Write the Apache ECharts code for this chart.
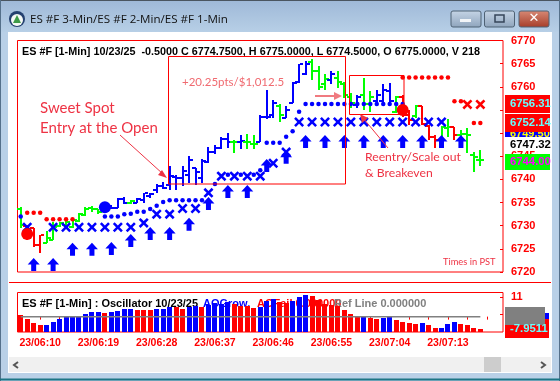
<!DOCTYPE html>
<html><head><meta charset="utf-8">
<style>html,body{margin:0;padding:0;background:#fff}#c{width:560px;height:381px}</style>
<script src="https://cdn.jsdelivr.net/npm/echarts@6/dist/echarts.min.js"></script>
</head><body><div id="c"></div>
<script>
const times=['23/06:07','23/06:08','23/06:09','23/06:10','23/06:11','23/06:12','23/06:13','23/06:14','23/06:15','23/06:16','23/06:17','23/06:18','23/06:19','23/06:20','23/06:21','23/06:22','23/06:23','23/06:24','23/06:25','23/06:26','23/06:27','23/06:28','23/06:29','23/06:30','23/06:31','23/06:32','23/06:33','23/06:34','23/06:35','23/06:36','23/06:37','23/06:38','23/06:39','23/06:40','23/06:41','23/06:42','23/06:43','23/06:44','23/06:45','23/06:46','23/06:47','23/06:48','23/06:49','23/06:50','23/06:51','23/06:52','23/06:53','23/06:54','23/06:55','23/06:56','23/06:57','23/06:58','23/06:59','23/07:00','23/07:01','23/07:02','23/07:03','23/07:04','23/07:05','23/07:06','23/07:07','23/07:08','23/07:09','23/07:10','23/07:11','23/07:12','23/07:13','23/07:14','23/07:15','23/07:16','23/07:17','23/07:18','23/07:19','23/07:20','23/07:21'];
const opens=[6733.5,6730,6729.5,6725.75,6726.25,6727,6730,6730.25,6729.75,6731,6732.25,6733.75,6733.5,6733.25,6734.25,6733.75,6735.75,6735,6735,6735.5,6736.5,6737.75,6738.5,6738.75,6740.5,6740.25,6741,6742.5,6740.25,6743.75,6746,6746.75,6748.75,6748,6748,6748,6747.75,6748,6753.5,6754,6755.75,6753.25,6756.5,6761,6762.75,6765.25,6763.5,6760.5,6761.5,6762,6760.5,6757.75,6756,6758.25,6756.25,6757,6757,6759,6754.5,6757.75,6754,6753.75,6755.75,6751.5,6749.25,6748.5,6751,6751.25,6749.5,6749.75,6745.25,6744.25];
const highs=[6734,6730.25,6729.5,6728,6728.75,6730.75,6730.75,6731.25,6731.75,6732.75,6734,6734.25,6733.5,6735,6734.5,6736,6736.25,6735.5,6736,6737,6737,6739,6739.5,6743,6741,6743,6745,6742.5,6744.5,6747,6747.5,6749.25,6750,6748.5,6749.5,6749.75,6749.5,6754,6759.25,6757.25,6756.25,6755.75,6761,6765,6765.5,6766,6764.5,6762.75,6763.5,6763.5,6761,6758.75,6758.25,6762,6759,6759.25,6760.5,6760.75,6758,6758.25,6755,6756,6755.75,6751.75,6749.5,6751.5,6753,6751.25,6750.75,6751,6746,6746.25];
const lows=[6729.5,6727,6725.5,6724,6726.25,6727,6729.75,6730,6729.5,6730.75,6732,6733,6732.5,6733,6733.5,6733.75,6734.75,6734.75,6735,6735,6736,6737,6738,6737.75,6737.75,6738.5,6739.25,6738.75,6739.25,6743.5,6745.5,6746.5,6746.75,6745.75,6746.5,6746.5,6746.5,6748,6753,6753.25,6752.5,6753.25,6756.5,6760.75,6762.5,6761.5,6759.25,6759.25,6760.5,6759.75,6757.5,6755.5,6755.5,6755,6754.5,6756,6756,6756,6754.25,6753.5,6751.75,6753.25,6751.75,6748.5,6746.75,6748,6749.25,6748.5,6748,6745.75,6741.5,6743];
const closes=[6730.25,6727.75,6725.75,6728,6727.25,6729.75,6730.5,6730.75,6731.25,6732.5,6733.5,6733.5,6733,6734.5,6733.75,6735.75,6735,6735.25,6735.75,6737,6736.75,6738.5,6738.25,6740.75,6740.25,6741.75,6744.25,6741.5,6744,6746,6746.75,6748.75,6748,6748,6748.25,6748,6747.75,6753.5,6753.5,6756.5,6754,6755,6760.75,6765,6765,6763.5,6760,6761.75,6762.75,6761,6758.25,6756.5,6757.75,6756.25,6757.75,6758.25,6759.25,6757,6757.75,6754,6752.75,6755.75,6752,6749.25,6748.5,6751.25,6751.25,6749.5,6749.75,6749.5,6744.75,6744.25];
const barColors=['g','r','r','r','g','g','g','g','g','g','g','g','g','b','b','b','b','g','b','b','b','b','b','b','b','b','b','b','b','b','b','b','b','g','b','g','g','b','b','b','g','b','b','b','b','g','g','g','b','g','g','g','b','g','g','b','b','b','g','r','r','g','r','r','r','g','g','r','g','g','g','g'];
const blueDots=[[0,6732],[13,6732],[14,6732],[15,6732],[16,6732.5],[17,6732.6],[18,6733],[19,6733],[20,6733.6],[21,6734.3],[22,6735.1],[23,6735.5],[24,6735.5],[25,6735.5],[26,6735.5],[27,6735.5],[28,6735.5],[30,6739],[32,6741],[34,6741],[36,6741],[37,6742],[38,6747.9],[39,6747.9],[40,6747.9],[41,6749.2],[42,6750.4],[43,6754.6],[44,6756.3],[45,6756.3],[46,6756.3],[47,6756.3],[48,6756.3],[49,6756.3],[50,6756.3],[51,6756.3],[52,6756.3],[53,6756.3],[54,6756.3],[55,6756.3],[56,6756.3],[57,6756.3],[58,6756.3],[59,6756.3]];
const redDots=[[1,6732.8],[2,6732.8],[3,6732.8],[4,6731.4],[5,6731.4],[6,6731.4],[7,6731.4],[8,6731.4],[59,6762],[60,6762],[61,6762],[62,6762],[63,6762],[64,6762],[65,6762],[66,6762],[67,6756.9],[68,6756.9],[70,6752.2],[71,6752.2]];
const blueCrosses=[[1,6729.65],[5,6729.65],[7,6729.65],[9,6729.65],[11,6729.65],[13,6729.65],[15,6729.65],[17,6729.65],[19,6730.6],[21,6732.5],[23,6732.5],[25,6733.7],[27,6733.7],[29,6737.1],[31,6740.7],[33,6740.7],[35,6740.7],[37,6740.7],[39,6743.5],[41,6745.9],[43,6752.4],[45,6752.4],[47,6752.4],[49,6752.4],[51,6752.4],[53,6752.4],[55,6752.4],[57,6752.4],[59,6752.4],[61,6752.4],[63,6752.4],[65,6752.4]];
const redCrosses=[[69,6756.2],[71,6756.2]];
const upArrows=[[2,6721.6],[5,6721.6],[8,6724.9],[11,6724.9],[14,6725.1],[17,6726.8],[20,6728.3],[23,6728.3],[26,6730.3],[29,6734.8],[32,6737.4],[35,6737.4],[38,6743],[41,6744.8],[44,6748.2],[47,6748.2],[50,6748.2],[53,6748.2],[56,6748.2],[59,6748.2],[62,6748.2],[65,6748.2],[68,6748.2]];
const redBalls=[[1,6728.2],[59,6755]];
const blueBalls=[[13,6734]];
const oscValues=[0.9,-1.3,-3.5,-4.7,-4.7,-3,-1.3,0,0,0,1.5,2.6,2.6,2,2.6,3.2,4.3,4.3,3.7,3.7,3.7,4.3,4.3,5.4,5.2,4.3,5.6,6,5.4,6.5,7.4,6.9,8.2,7.1,6.1,6.1,4.8,5.4,8.8,10.1,8.2,7.4,8.8,11,12.1,11.5,9.3,7.1,6.5,6,3.7,1.5,0,-0.2,-0.7,-1.3,-0.7,-0.2,-1.9,-3,-3.5,-4.1,-3.5,-4.7,-6.3,-6.3,-4.1,-3,-4.1,-4.7,-6.3,-6.9];
const oscColors=['r','r','r','r','b','b','b','b','b','b','b','b','b','r','b','b','b','b','r','r','r','b','b','b','r','r','b','b','r','b','b','b','b','r','r','r','r','b','b','b','r','r','b','b','b','r','r','r','r','r','r','r','r','b','r','r','b','b','r','r','r','r','b','r','r','b','b','b','r','r','r','r'];
const refLine=oscValues.map(()=>0);
const priceTicks=[6720,6770];
const oscLabelTicks=[11];
const oscTickMarks=[11,1.5];

const RED='#ff0000',BLUE='#0000ff',GREEN='#00ff00';
const colorOf={r:RED,b:BLUE,g:GREEN};
const arial='"Liberation Sans",Arial,sans-serif';
const ui='Lato,"Open Sans",sans-serif';
const NOTE='#ee3344';

function renderOhlc(params,api){
  const i=api.value(0),c=colorOf[barColors[i]];
  const x=Math.round(api.coord([i,0])[0]);
  const yo=Math.round(api.coord([i,api.value(1)])[1]);
  const yh=Math.round(api.coord([i,api.value(2)])[1]);
  const yl=Math.round(api.coord([i,api.value(3)])[1]);
  const yc=Math.round(api.coord([i,api.value(4)])[1]);
  const st={fill:c};
  return {type:'group',children:[
    {type:'rect',shape:{x:x-1,y:yh,width:2,height:Math.max(1,yl-yh)},style:st},
    {type:'rect',shape:{x:x-4,y:yo-1,width:4,height:2},style:st},
    {type:'rect',shape:{x:x+1,y:yc-1,width:3,height:2},style:st}
  ]};
}
function renderOsc(params,api){
  const i=api.value(0);
  const a=api.coord([i,api.value(1)]);
  const b=api.coord([i,-8.6]);
  const x=Math.round(a[0]-2.5);
  return {type:'rect',shape:{x:x,y:Math.round(a[1]),width:5,height:Math.round(b[1])-Math.round(a[1])},style:{fill:colorOf[oscColors[i]]}};
}
const txt=(x,y,text,font,fill,extra)=>Object.assign({type:'text',x,y,z:100,silent:true,style:{text,font,fill,textVerticalAlign:'middle',textBaseline:'middle'}},extra||{});
const box=(x,y,w,h,fill,z)=>({type:'rect',z:z==null?90:z,silent:true,shape:{x,y,width:w,height:h},style:{fill}});
const frame=(x,y,w,h,c)=>({type:'rect',z:100,silent:true,shape:{x,y,width:w,height:h},style:{fill:'none',stroke:c,lineWidth:1}});
const seg=(x1,y1,x2,y2,c,w)=>({type:'line',z:100,silent:true,shape:{x1,y1,x2,y2},style:{stroke:c,lineWidth:w||1}});
const poly=(pts,c)=>({type:'polygon',z:100,silent:true,shape:{points:pts},style:{fill:c}});
const vGrad=(a,b)=>({type:'linear',x:0,y:0,x2:0,y2:1,colorStops:[{offset:0,color:a},{offset:1,color:b}]});
const btn=(x,w,a,b)=>({type:'rect',z:-5,silent:true,shape:{x,y:11,width:w,height:16,r:2},style:{fill:vGrad(a,b),stroke:'#4f6275',lineWidth:1}});

const graphics=[
  box(0,0,560,381,'#b9d0e7',-10),
  {type:'rect',z:-9,silent:true,shape:{x:1,y:1,width:558,height:31},style:{fill:vGrad('#9fb9d8','#b7cfe6')}},
  seg(0,0.5,560,0.5,'#4a5560',1),
  seg(0.5,0,0.5,381,'#55708a',1),
  seg(559.5,0,559.5,381,'#55708a',1),
  seg(0,379.5,560,379.5,'#1d7585',2),
  box(8,32,544,341,'#ffffff',-8),
  box(9,357,542,15,'#f0f0f0',-7),
  box(484,357,17,15,'#cdcdcd',-6),
  {type:'polyline',z:-5,silent:true,shape:{points:[[18,362],[14,365],[18,368]]},style:{stroke:'#555',lineWidth:2,fill:'none'}},
  {type:'polyline',z:-5,silent:true,shape:{points:[[541,362],[545,365],[541,368]]},style:{stroke:'#555',lineWidth:2,fill:'none'}},
  {type:'circle',z:-5,silent:true,shape:{cx:17,cy:19,r:8},style:{fill:'#24406f'}},
  {type:'circle',z:-5,silent:true,shape:{cx:17,cy:20,r:6},style:{fill:'#f4f8f4'}},
  poly([[17,15],[21,23],[13,23]],'#3f9a48'),
  txt(30,20,'ES #F 3-Min/ES #F 2-Min/ES #F 1-Min','11.6px "Open Sans",sans-serif','#111111'),
  btn(451,30,'#c6d5e6','#8ea4bc'),
  btn(484.5,30,'#c6d5e6','#8ea4bc'),
  btn(519,30,'#d88a76','#a63c28'),
  box(460,19,11,3,'#f2f5f8',-4),
  {type:'rect',z:-4,silent:true,shape:{x:495,y:15,width:9,height:7},style:{fill:'none',stroke:'#36465a',lineWidth:1.5}},
  {type:'text',x:534,y:19,z:-4,silent:true,style:{text:'✕',font:'bold 13px "DejaVu Sans"',fill:'#ffffff',textAlign:'center',textVerticalAlign:'middle',textBaseline:'middle'}},
  seg(9,282.5,551,282.5,RED,1),
  txt(22,52,'ES #F [1-Min] 10/23/25  -0.5000 C 6774.7500, H 6775.0000, L 6774.5000, O 6775.0000, V 218','bold 10.8px '+arial,'#000000'),
  {type:'group',children:[
    txt(22,304,'ES #F [1-Min] : Oscillator 10/23/25','bold 11px '+arial,'#000000',{z:0}),
    txt(203,304,'AOGrow,','bold 11px '+arial,BLUE,{z:0}),
    txt(257,304,'AOFail 0.000000','bold 11px '+arial,RED,{z:0}),
    txt(334,304,'Ref Line 0.000000','bold 11px '+arial,'#808080',{z:0})
  ]},
  frame(168.5,56.5,177,127.5,RED),
  frame(349.5,75.5,54.5,39,RED),
  txt(40,108,'Sweet Spot','15px '+ui,NOTE),
  txt(40,128,'Entry at the Open','15px '+ui,NOTE),
  txt(182,82,'+20.25pts/$1,012.5','11.5px '+ui,'#f06a70'),
  txt(365,157,'Reentry/Scale out','12.2px '+ui,NOTE),
  txt(365,173,'& Breakeven','12.2px '+ui,NOTE),
  txt(443,262,'Times in PST','9.3px '+ui,NOTE),
  seg(120,135,163,174,NOTE,1),
  poly([[167,178],[158,175],[162,170]],NOTE),
  seg(315,96,335,96,'#f07a80',2),
  poly([[342,96],[334,92],[334,100]],'#f07a80'),
  seg(388,148,363,118,NOTE,1),
  poly([[360,114],[368,118],[362,123]],NOTE),
  box(505,131,45,6,BLUE),
  txt(510,134,'6749.50','bold 11px '+arial,'#ffff00',{z:91}),
  box(505,95,45,18,RED,92),
  txt(510,104,'6756.31','bold 11.3px '+arial,'#66ffff',{z:93}),
  box(505,114,45,18,RED,92),
  txt(510,123,'6752.14','bold 11.3px '+arial,'#66ffff',{z:93}),
  txt(510,145,'6747.32','bold 11.3px '+arial,'#000000'),
  box(505,154,45,16,GREEN,92),
  txt(510,162,'6744.00','bold 11.3px '+arial,'#ff00ff',{z:93}),
  box(545,313,4,6,BLUE),
  box(505,319,44,19,RED,90),
  box(505,307,40,18,'#808080',91),
  txt(510,329,'-7.9511','bold 11.3px '+arial,'#66ffff',{z:93})
];

const scatterBase={type:'scatter',xAxisIndex:0,yAxisIndex:0,z:4};
const crossPath='path://M1.8,0 L5,3.2 L8.2,0 L10,1.8 L6.8,5 L10,8.2 L8.2,10 L5,6.8 L1.8,10 L0,8.2 L3.2,5 L0,1.8Z';
const option={
  animation:false,
  backgroundColor:'#ffffff',
  graphic:{elements:graphics},
  grid:[
    {left:17.5,width:485.5,top:40.5,height:231.5,show:true,borderColor:RED,borderWidth:1,backgroundColor:'transparent',z:1},
    {left:17.5,width:485.5,top:292.5,height:39.5,show:true,borderColor:RED,borderWidth:1,backgroundColor:'transparent',z:1}
  ],
  xAxis:[
    {type:'category',gridIndex:0,data:times,axisLine:{show:false},axisTick:{show:false},axisLabel:{show:false},splitLine:{show:false}},
    {type:'category',gridIndex:1,data:times,axisLine:{show:false},
      axisTick:{show:true,length:3,alignWithLabel:true,interval:i=>i%3===0,lineStyle:{color:RED}},
      axisLabel:{interval:i=>i%9===3,color:RED,fontWeight:'bold',fontSize:10.5,fontFamily:arial,margin:6,hideOverlap:false},splitLine:{show:false}}
  ],
  yAxis:[
    {type:'value',gridIndex:0,position:'right',min:priceTicks[0],max:priceTicks[1],interval:5,
      axisLine:{show:false},axisTick:{show:true,inside:true,length:3,lineStyle:{color:RED}},
      axisLabel:{formatter:v=>String(v),color:RED,fontWeight:'bold',fontSize:11,fontFamily:arial,margin:8},splitLine:{show:false}},
    {type:'value',gridIndex:1,position:'right',min:-8.6,max:13.5,
      axisLine:{show:false},
      axisTick:{show:true,inside:true,length:3,customValues:oscTickMarks,lineStyle:{color:RED}},
      axisLabel:{customValues:oscLabelTicks,color:RED,fontWeight:'bold',fontSize:11,fontFamily:arial,margin:8},splitLine:{show:false}}
  ],
  series:[
    {type:'custom',name:'OHLC',xAxisIndex:0,yAxisIndex:0,z:3,renderItem:renderOhlc,
      encode:{x:0,y:[1,2,3,4]},
      data:opens.map((o,i)=>[i,o,highs[i],lows[i],closes[i]])},
    {...scatterBase,name:'Blue dots',symbol:'circle',symbolSize:4.5,itemStyle:{color:BLUE,opacity:1},data:blueDots},
    {...scatterBase,name:'Red dots',symbol:'circle',symbolSize:4.5,itemStyle:{color:RED,opacity:1},data:redDots},
    {...scatterBase,name:'Blue X',symbol:crossPath,symbolSize:10,itemStyle:{color:BLUE,opacity:1},data:blueCrosses},
    {...scatterBase,name:'Red X',symbol:crossPath,symbolSize:10,itemStyle:{color:RED,opacity:1},data:redCrosses},
    {...scatterBase,name:'Arrows',symbol:'path://M6,0 L12,6.5 L8.5,6.5 L8.5,13 L3.5,13 L3.5,6.5 L0,6.5 Z',symbolSize:[12,13],itemStyle:{color:BLUE,opacity:1},data:upArrows},
    {...scatterBase,z:5,name:'Red entries',symbol:'circle',symbolSize:12,itemStyle:{color:RED,opacity:1},data:redBalls},
    {...scatterBase,z:5,name:'Blue entries',symbol:'circle',symbolSize:12,itemStyle:{color:BLUE,opacity:1},data:blueBalls},
    {type:'custom',name:'Oscillator',xAxisIndex:1,yAxisIndex:1,z:3,renderItem:renderOsc,
      encode:{x:0,y:1},data:oscValues.map((v,i)=>[i,v])},
    {type:'line',name:'Ref Line',xAxisIndex:1,yAxisIndex:1,z:4,data:refLine,showSymbol:false,symbol:'none',lineStyle:{color:'#808080',width:1.5}}
  ]
};
echarts.init(document.getElementById('c'),null,{renderer:'canvas'}).setOption(option);
</script></body></html>
